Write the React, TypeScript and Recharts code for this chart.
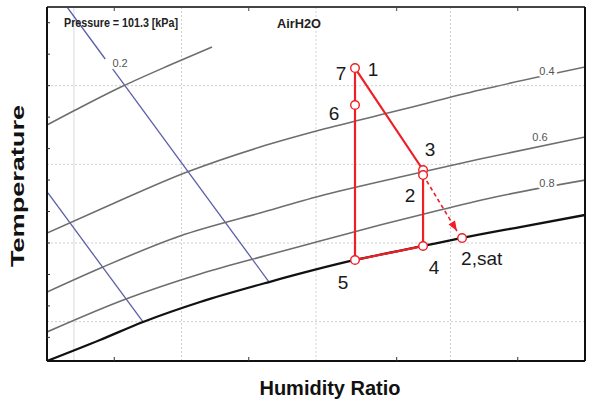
import {
  ComposedChart, Line, Scatter, XAxis, YAxis, ReferenceLine, ReferenceDot,
} from 'recharts'

// chart units: humidity ratio [g/kg] across, dry-bulb temperature [°C] up
const X_DOMAIN = [0, 40]
const Y_DOMAIN = [5, 50]
const X_TICKS = [5, 15, 26, 35]
const Y_TICKS = [6, 8, 10, 12, 14, 16, 18, 20, 22, 24, 26, 28, 30, 32, 34, 36, 38, 40, 42, 44, 46, 48]
const X_GRID = [10, 20, 30]
const Y_GRID = [10, 20, 30, 40]
const X_LIGHT = 2

// saturation curve and relative humidity lines
const saturation = [
  { x: 0, y: 5.0 }, { x: 3.94, y: 7.67 }, { x: 7.14, y: 9.96 }, { x: 11.38, y: 12.5 },
  { x: 16.51, y: 15.04 }, { x: 22.9, y: 17.84 }, { x: 27.96, y: 19.62 }, { x: 30.86, y: 20.64 },
  { x: 35.17, y: 22.03 }, { x: 40, y: 23.56 },
]
const rh80 = [
  { x: 0, y: 8.69 }, { x: 5.87, y: 12.88 }, { x: 11.38, y: 16.06 }, { x: 16.43, y: 18.47 },
  { x: 20.3, y: 20.25 }, { x: 24.76, y: 22.29 }, { x: 29.22, y: 24.19 }, { x: 33.68, y: 25.97 },
  { x: 40, y: 28.0 },
]
const rh60 = [
  { x: 0, y: 13.77 }, { x: 4.16, y: 16.95 }, { x: 9.89, y: 20.89 }, { x: 15.84, y: 23.81 },
  { x: 20.3, y: 25.97 }, { x: 26.25, y: 28.39 }, { x: 32.19, y: 30.67 }, { x: 40, y: 33.47 },
]
const rh40 = [
  { x: 0, y: 21.27 }, { x: 4.68, y: 24.83 }, { x: 10.41, y: 29.02 }, { x: 15.84, y: 32.2 },
  { x: 20.3, y: 34.36 }, { x: 26.25, y: 36.9 }, { x: 32.19, y: 39.44 }, { x: 40, y: 42.37 },
]
const rh20 = [
  { x: 0, y: 35.0 }, { x: 2.83, y: 37.54 }, { x: 5.65, y: 39.95 }, { x: 9.14, y: 42.62 },
  { x: 12.27, y: 44.91 },
]

// blue diagonal lines (the upper one is broken near the 0.2 label)
const blueUpperA = [{ x: 1.49, y: 50 }, { x: 4.33, y: 43.39 }]
const blueUpperB = [{ x: 4.88, y: 42.12 }, { x: 16.51, y: 15.04 }]
const blueLower = [{ x: 0.07, y: 26.36 }, { x: 7.14, y: 9.96 }]

// process states
const state1 = { x: 22.9, y: 42.24 }
const state6 = { x: 22.9, y: 37.54 }
const state5 = { x: 22.9, y: 17.84 }
const state4 = { x: 27.96, y: 19.62 }
const state3 = { x: 27.96, y: 29.28 }
const state2 = { x: 27.96, y: 28.64 }
const state2sat = { x: 30.86, y: 20.63 }
const arrowTip = { x: 30.48, y: 21.52 }

const processPath = [state1, state3, state4, state5, state1]
const coolingPath = [state2, arrowTip]
const stateMarkers = [state1, state6, state5, state4, state3, state2, state2sat]

const stateLabels = [
  { text: '7', at: state1, dx: -14, dy: 5 },
  { text: '1', at: state1, dx: 18, dy: 1 },
  { text: '6', at: state6, dx: -21, dy: 8 },
  { text: '3', at: state3, dx: 7, dy: -20 },
  { text: '2', at: state2, dx: -13, dy: 20 },
  { text: '4', at: state4, dx: 11, dy: 22 },
  { text: '5', at: state5, dx: -12, dy: 23 },
  { text: '2,sat', at: state2sat, dx: -1, dy: 20, anchor: 'start' },
]

const rhLabels = [
  { text: '0.2', x: 5.43, y: 42.88 },
  { text: '0.4', x: 37.17, y: 41.86 },
  { text: '0.6', x: 36.65, y: 33.47 },
  { text: '0.8', x: 37.17, y: 27.63 },
]

const RED = '#ee1f25'
const BLUE = '#5b5ea8'
const CURVE = '#6e6e6e'
const GRID = '#cfcfcf'
const FONT = '"Liberation Sans", Arial, sans-serif'

// tick marks only, no numbers
const blankTick = () => <g />

function StateMarker(props: any) {
  const { cx, cy } = props
  return <circle cx={cx} cy={cy} r={4.3} fill="#fff" stroke={RED} strokeWidth={1.4} />
}

function ArrowHead(props: any) {
  const { cx, cy, index, points } = props
  if (index !== 1 || cx == null) return <g key={`a${index}`} />
  let ang = 58.7
  if (points && points.length > 1) {
    ang = Math.atan2(cy - points[0].y, cx - points[0].x) * 180 / Math.PI
  }
  return (
    <polygon key="arrow" points="0,0 -10,-3.8 -10,3.8"
      transform={`translate(${cx},${cy}) rotate(${ang})`} fill={RED} />
  )
}

const stateText = (text: string, dx: number, dy: number, anchor = 'middle') => (p: any) => (
  <text x={p.cx + dx} y={p.cy + dy} textAnchor={anchor} dominantBaseline="central"
    fontFamily={FONT} fontSize={19} fill="#1a1a1a">{text}</text>
)

const rhText = (text: string) => (p: any) => (
  <text x={p.cx} y={p.cy} textAnchor="middle" dominantBaseline="central"
    fontFamily={FONT} fontSize={11} fill="#555" stroke="#fff" strokeWidth={5}
    strokeLinejoin="round" paintOrder="stroke">{text}</text>
)

const headerLabel = () => (
  <g fontFamily={FONT} fontWeight={700} fill="#222">
    <text x={64} y={27} fontSize={12} textLength={114} lengthAdjust="spacingAndGlyphs">Pressure = 101.3 [kPa]</text>
    <text x={277} y={28} fontSize={13.5} textLength={44} lengthAdjust="spacingAndGlyphs">AirH2O</text>
  </g>
)

const tempLabel = () => (
  <text transform="translate(24,186) rotate(-90)" textAnchor="middle" fontFamily={FONT}
    fontWeight={700} fontSize={19} fill="#111" textLength={162} lengthAdjust="spacingAndGlyphs">Temperature</text>
)

const humLabel = () => (
  <text x={330} y={395} textAnchor="middle" fontFamily={FONT} fontWeight={700}
    fontSize={20} fill="#111">Humidity Ratio</text>
)

export default function App() {
  return (
    <div style={{ position: 'absolute', left: 0, top: 0, width: 604, height: 401, background: '#fff' }}>
      <ComposedChart width={604} height={401} margin={{ top: 7, right: 19, bottom: 40, left: 47 }}>
        <XAxis type="number" dataKey="x" domain={X_DOMAIN} ticks={X_TICKS} allowDataOverflow
          mirror tick={blankTick} tickSize={4} tickLine={{ stroke: '#333' }}
          axisLine={{ stroke: '#111', strokeWidth: 2 }} label={humLabel} />
        <XAxis xAxisId="top" orientation="top" type="number" dataKey="x" domain={X_DOMAIN} ticks={X_TICKS}
          allowDataOverflow mirror tick={blankTick} tickSize={4} tickLine={{ stroke: '#444' }}
          axisLine={{ stroke: '#444', strokeWidth: 2 }} label={headerLabel} />
        <YAxis type="number" domain={Y_DOMAIN} ticks={Y_TICKS} allowDataOverflow
          mirror tick={blankTick} tickSize={3} tickLine={{ stroke: '#333' }}
          axisLine={{ stroke: '#111', strokeWidth: 2 }} label={tempLabel} />
        <YAxis yAxisId="right" orientation="right" type="number" domain={Y_DOMAIN} ticks={Y_TICKS}
          allowDataOverflow mirror tick={false} tickLine={false}
          axisLine={{ stroke: '#111', strokeWidth: 2 }} />

        <ReferenceLine x={X_LIGHT} stroke="#dde0e8" strokeWidth={1.2} />
        {X_GRID.map(v => (
          <ReferenceLine key={`gx${v}`} x={v} stroke={GRID} strokeDasharray="2 2" />
        ))}
        {Y_GRID.map(v => (
          <ReferenceLine key={`gy${v}`} y={v} stroke={GRID} strokeDasharray="2 2" />
        ))}

        <Line data={blueUpperA} dataKey="y" type="linear" stroke={BLUE} strokeWidth={1.3} dot={false} isAnimationActive={false} />
        <Line data={blueUpperB} dataKey="y" type="linear" stroke={BLUE} strokeWidth={1.3} dot={false} isAnimationActive={false} />
        <Line data={blueLower} dataKey="y" type="linear" stroke={BLUE} strokeWidth={1.3} dot={false} isAnimationActive={false} />

        <Line data={rh20} dataKey="y" type="monotone" stroke={CURVE} strokeWidth={1.6} dot={false} isAnimationActive={false} />
        <Line data={rh40} dataKey="y" type="monotone" stroke={CURVE} strokeWidth={1.6} dot={false} isAnimationActive={false} />
        <Line data={rh60} dataKey="y" type="monotone" stroke={CURVE} strokeWidth={1.6} dot={false} isAnimationActive={false} />
        <Line data={rh80} dataKey="y" type="monotone" stroke={CURVE} strokeWidth={1.6} dot={false} isAnimationActive={false} />
        <Line data={saturation} dataKey="y" type="monotone" stroke="#111" strokeWidth={2.3} dot={false} isAnimationActive={false} />

        {rhLabels.map(l => (
          <ReferenceDot key={`rh${l.text}`} x={l.x} y={l.y} r={0} shape={rhText(l.text)} />
        ))}

        <Line data={processPath} dataKey="y" type="linear" stroke={RED} strokeWidth={2.2} dot={false} isAnimationActive={false} />
        <Line data={coolingPath} dataKey="y" type="linear" stroke={RED} strokeWidth={1.6} strokeDasharray="4 3"
          dot={ArrowHead} activeDot={false} isAnimationActive={false} />
        <Scatter data={stateMarkers} dataKey="y" shape={StateMarker} isAnimationActive={false} />

        {stateLabels.map((l, i) => (
          <ReferenceDot key={`st${i}`} x={l.at.x} y={l.at.y} r={0}
            shape={stateText(l.text, l.dx, l.dy, l.anchor)} />
        ))}
      </ComposedChart>
    </div>
  )
}
